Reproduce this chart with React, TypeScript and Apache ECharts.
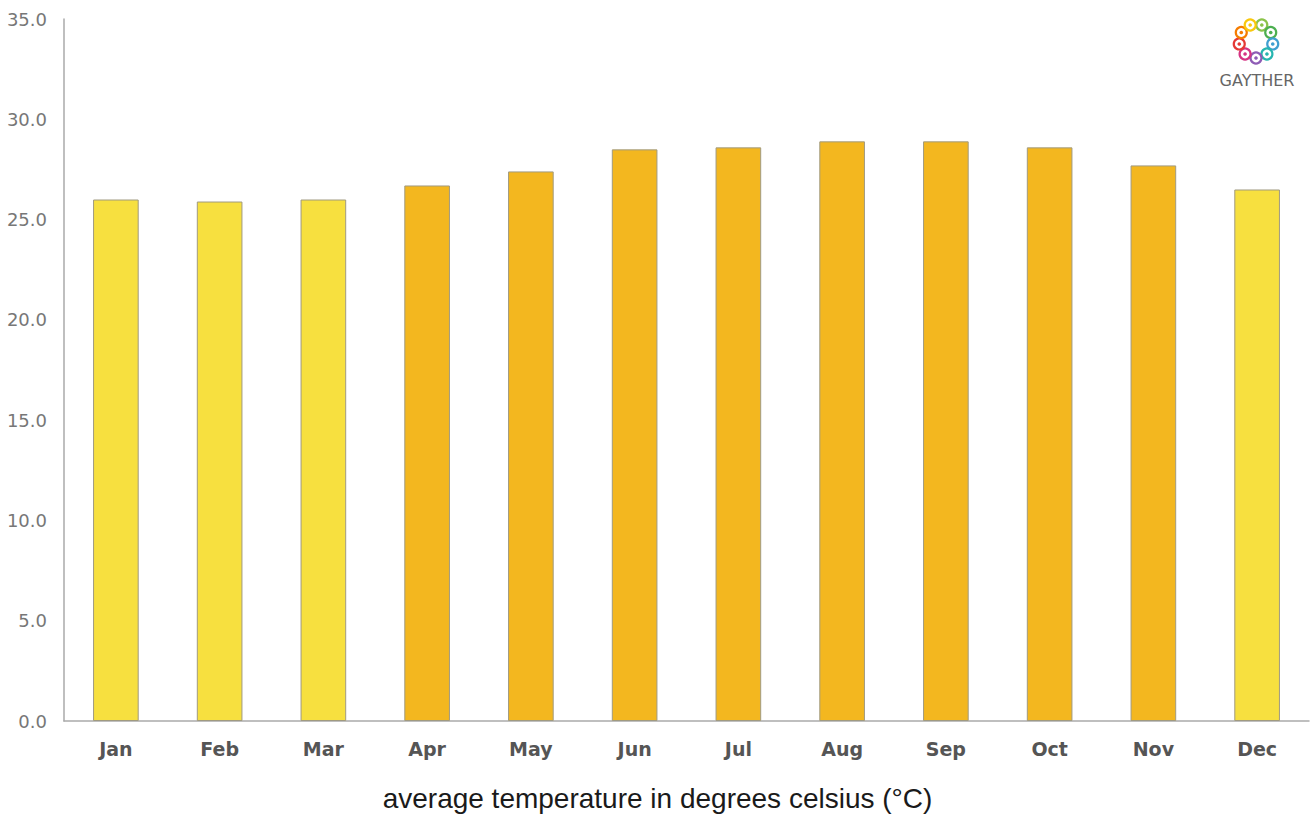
import React, { useEffect, useRef } from "react";
import * as echarts from "echarts";

const months = ["Jan", "Feb", "Mar", "Apr", "May", "Jun", "Jul", "Aug", "Sep", "Oct", "Nov", "Dec"];
const temps = [26.0, 25.9, 26.0, 26.7, 27.4, 28.5, 28.6, 28.9, 28.9, 28.6, 27.7, 26.5];
const isWarm = [false, false, false, true, true, true, true, true, true, true, true, false];
const coolColor = "#F7E03F";
const warmColor = "#F3B71F";
const logoColors = ["#8BC34A", "#4CAF50", "#3F9FD0", "#26B5B0", "#8E5CB5", "#D63384", "#E53935", "#F57C00", "#F9C80E"];

export default function App() {
  const ref = useRef<HTMLDivElement>(null);
  useEffect(() => {
    if (!ref.current) return;
    const chart = echarts.init(ref.current, null, { renderer: "svg" });
    const cx = 1256, cy = 41, r = 17;
    const logo: any[] = [];
    logoColors.forEach((c, i) => {
      const a = (-70 + i * 40) * Math.PI / 180;
      const x = cx + r * Math.cos(a), y = cy + r * Math.sin(a);
      logo.push({
        type: "circle",
        shape: { cx: x, cy: y, r: 5.5 },
        style: { fill: "none", stroke: c, lineWidth: 2.2 },
      });
      logo.push({
        type: "circle",
        shape: { cx: x, cy: y, r: 1.8 },
        style: { fill: c },
      });
    });
    logo.push({
      type: "text",
      x: 1257,
      y: 72,
      style: { text: "GAYTHER", fill: "#666", font: "16px 'DejaVu Sans', sans-serif", textAlign: "center" },
    });
    chart.setOption({
      animation: false,
      grid: { left: 64, right: 6, top: 19, bottom: 96 },
      title: {
        text: "average temperature in degrees celsius (°C)",
        left: "center",
        bottom: 0,
        textStyle: { fontFamily: "Liberation Sans, Arial", fontSize: 28, fontWeight: "normal", color: "#1a1a1a" },
      },
      xAxis: {
        type: "category",
        data: months,
        axisLine: { lineStyle: { color: "#aaa", width: 1.5 } },
        axisTick: { show: false },
        axisLabel: { color: "#555", fontSize: 19, fontWeight: "bold", fontFamily: "DejaVu Sans, sans-serif", margin: 18 },
      },
      yAxis: {
        type: "value",
        min: 0,
        max: 35,
        interval: 5,
        axisLine: { show: true, lineStyle: { color: "#aaa", width: 1.5 } },
        axisTick: { show: false },
        splitLine: { show: false },
        axisLabel: {
          color: "#777",
          fontSize: 18,
          fontFamily: "DejaVu Sans, sans-serif",
          margin: 17,
          formatter: (v: number) => v.toFixed(1),
        },
      },
      series: [
        {
          type: "bar",
          barWidth: "44%",
          data: temps.map((v, i) => ({
            value: v,
            itemStyle: { color: isWarm[i] ? warmColor : coolColor },
          })),
          itemStyle: { borderColor: "#a09a80", borderWidth: 1 },
        },
      ],
      graphic: logo,
    });
    return () => chart.dispose();
  }, []);
  return <div ref={ref} style={{ position: "absolute", left: 0, top: 0, width: 1315, height: 817 }} />;
}
